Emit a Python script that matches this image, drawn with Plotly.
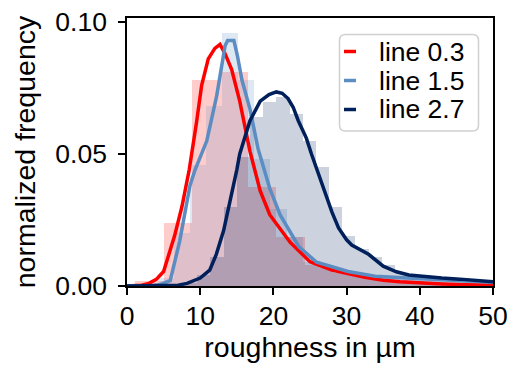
import numpy as np
import plotly.graph_objects as go

# ---------------- data ----------------
series_names = ["line 0.3", "line 1.5", "line 2.7"]

# histogram bin edges and normalized heights
red_edges = [1.15, 5.0, 8.85, 12.7, 16.55, 20.4, 24.25, 28.1, 31.95, 35.8, 39.65, 43.5, 47.35, 51.2]
red_hist = [0.002, 0.024, 0.078, 0.081, 0.0375, 0.0186, 0.008, 0.005, 0.003, 0.0015, 0.001, 0.0007, 0.0005]

blue_edges = [4.2, 6.4, 8.6, 10.8, 13.0, 15.2, 17.4, 19.6, 21.8, 24.0, 26.2, 28.4, 30.6, 32.8,
              35.0, 37.2, 39.4, 41.6, 43.8, 46.0, 48.2, 50.4]
blue_hist = [0.003, 0.02, 0.046, 0.068, 0.096, 0.078, 0.048, 0.029, 0.0186, 0.009, 0.007, 0.005,
             0.004, 0.003, 0.003, 0.0028, 0.0025, 0.0022, 0.002, 0.0018, 0.0015]

dark_edges = [7.8, 9.6, 11.4, 13.2, 15.0, 16.8, 18.6, 20.4, 22.2, 24.0, 25.8, 27.6, 29.4, 31.2,
              33.0, 34.8, 36.6, 38.4, 40.2, 42.0, 43.8, 45.6, 47.4, 49.2, 51.0]
dark_hist = [0.001, 0.004, 0.011, 0.030, 0.049, 0.064, 0.0695, 0.0715, 0.065, 0.055, 0.045, 0.030,
             0.019, 0.014, 0.011, 0.008, 0.005, 0.004, 0.0035, 0.003, 0.0028, 0.0025, 0.002, 0.0018]

# kernel density curves
red_kde_x = [0, 2, 3, 4, 5, 6.5, 7.5, 8.5, 9.5, 10.2, 11.1, 12.0, 12.7, 13.4, 14.3, 15.4, 16.8,
             18.2, 19.5, 20.8, 22.3, 25.0, 28.0, 32.5, 35.0, 37.3, 40, 43, 46, 50]
red_kde_y = [0, 0.0003, 0.001, 0.0025, 0.0055, 0.019, 0.030, 0.044, 0.062, 0.076, 0.086, 0.090,
             0.0915, 0.088, 0.082, 0.070, 0.051, 0.036, 0.027, 0.022, 0.0165, 0.0092, 0.006, 0.0033,
             0.0022, 0.0016, 0.0011, 0.0008, 0.0005, 0.0003]

blue_kde_x = [0, 3, 4.5, 5.9, 7.2, 8.6, 9.3, 10.2, 10.9, 12.25, 13.0, 13.4, 13.75, 14.6, 15.1,
              15.7, 16.8, 17.9, 19.5, 20.9, 23.5, 25.9, 30.2, 33.9, 38.4, 43, 47.5, 50]
blue_kde_y = [0, 0, 0.0005, 0.002, 0.017, 0.038, 0.044, 0.050, 0.055, 0.072, 0.084, 0.091, 0.093,
              0.093, 0.087, 0.078, 0.067, 0.052, 0.037, 0.027, 0.0148, 0.009, 0.0055, 0.0037, 0.003,
              0.0025, 0.0018, 0.0014]

dark_kde_x = [0, 7, 8.2, 10, 11.3, 12.2, 13.2, 14.2, 15.0, 15.4, 16.8, 18.2, 19.4, 20.4, 21.2,
              22.0, 22.7, 23.4, 24.5, 25.2, 26.2, 27.0, 28.0, 28.9, 30.0, 30.7, 33.0, 35.0, 36.8,
              38.5, 40.9, 43, 45.5, 48, 50]
dark_kde_y = [0, 0.0003, 0.001, 0.003, 0.006, 0.012, 0.021, 0.033, 0.044, 0.050, 0.0626, 0.070,
              0.0725, 0.0735, 0.073, 0.071, 0.0677, 0.0626, 0.056, 0.050, 0.042, 0.036, 0.028,
              0.022, 0.0175, 0.0155, 0.012, 0.0075, 0.0054, 0.0042, 0.0035, 0.003, 0.0026, 0.002,
              0.0016]

x_ticks = [0, 10, 20, 30, 40, 50]
y_ticks = [0.00, 0.05, 0.10]

# ---------------- styling ----------------
W, H = 510, 369
ML, MR, MT, MB = 127, 17, 18, 83
line_colors = ["#ff0000", "#5b8cc2", "#00205b"]
hist_colors = ["rgba(255,0,0,0.2)", "rgba(91,140,194,0.2)", "rgba(0,32,91,0.2)"]
FONT = "Liberation Sans, Arial, sans-serif"
FS_TICK, FS_TITLE, FS_LEG = 26.5, 28.5, 26.5

PW, PH = W - ML - MR, H - MT - MB


def px(x):  # pixel x -> paper x
    return (x - ML) / PW


def py(y):  # pixel y -> paper y
    return (H - MB - y) / PH


fig = go.Figure()

hists = [(red_edges, red_hist), (blue_edges, blue_hist), (dark_edges, dark_hist)]
for (edges, h), col in zip(hists, hist_colors):
    e = np.array(edges)
    fig.add_trace(go.Bar(x=(e[:-1] + e[1:]) / 2, y=h, width=np.diff(e), marker_color=col,
                         marker_line_width=0, showlegend=False, hoverinfo="skip"))

kdes = [(red_kde_x, red_kde_y), (blue_kde_x, blue_kde_y), (dark_kde_x, dark_kde_y)]
for (kx, ky), col, name in zip(kdes, line_colors, series_names):
    fig.add_trace(go.Scatter(x=kx, y=ky, mode="lines", name=name,
                             line=dict(color=col, width=3.5), showlegend=False))

# ---- manual legend (box, short dashes, labels) ----
bx0, bx1, by0, by1, r = 339.5, 478.5, 34.5, 131, 6
path = (f"M {px(bx0 + r)} {py(by0)} L {px(bx1 - r)} {py(by0)} "
        f"Q {px(bx1)} {py(by0)} {px(bx1)} {py(by0 + r)} L {px(bx1)} {py(by1 - r)} "
        f"Q {px(bx1)} {py(by1)} {px(bx1 - r)} {py(by1)} L {px(bx0 + r)} {py(by1)} "
        f"Q {px(bx0)} {py(by1)} {px(bx0)} {py(by1 - r)} L {px(bx0)} {py(by0 + r)} "
        f"Q {px(bx0)} {py(by0)} {px(bx0 + r)} {py(by0)} Z")
fig.add_shape(type="path", path=path, xref="paper", yref="paper",
              line=dict(color="#d0d0d0", width=1.5), fillcolor="rgba(255,255,255,0.85)")
row_y = [51.5, 80.5, 109.5]
for name, col, ry in zip(series_names, line_colors, row_y):
    fig.add_shape(type="line", xref="paper", yref="paper", x0=px(344), x1=px(356),
                  y0=py(ry), y1=py(ry), line=dict(color=col, width=3.5))
    fig.add_annotation(text=name, xref="paper", yref="paper", x=px(377), y=py(ry),
                       xanchor="left", yanchor="middle", showarrow=False,
                       font=dict(family=FONT, size=FS_LEG, color="black"))

axis_common = dict(showline=True, mirror=True, linecolor="black", linewidth=1.5,
                   ticks="outside", ticklen=7, tickwidth=1.5, tickcolor="black",
                   showgrid=False, zeroline=False, automargin=False,
                   tickfont=dict(family=FONT, size=FS_TICK, color="black"))

fig.update_layout(
    width=W, height=H,
    margin=dict(l=ML, r=MR, t=MT, b=MB),
    paper_bgcolor="white", plot_bgcolor="white",
    barmode="overlay", bargap=0, showlegend=False,
    font=dict(family=FONT, size=FS_TICK, color="black"),
    xaxis=dict(range=[0, 50], tickvals=x_ticks, ticktext=[str(v) for v in x_ticks],
               ticklabelstandoff=-2,
               title=dict(text="roughness in µm", font=dict(family=FONT, size=FS_TITLE), standoff=6),
               **axis_common),
    yaxis=dict(range=[0, 0.1015], tickvals=y_ticks, ticktext=[f"{v:.2f}" for v in y_ticks],
               ticklabelstandoff=6,
               title=dict(text="normalized frequency", font=dict(family=FONT, size=FS_TITLE), standoff=11),
               **axis_common),
)

fig.write_html("out.html", config={"displayModeBar": False},
               post_script="document.body.style.margin='0';")
